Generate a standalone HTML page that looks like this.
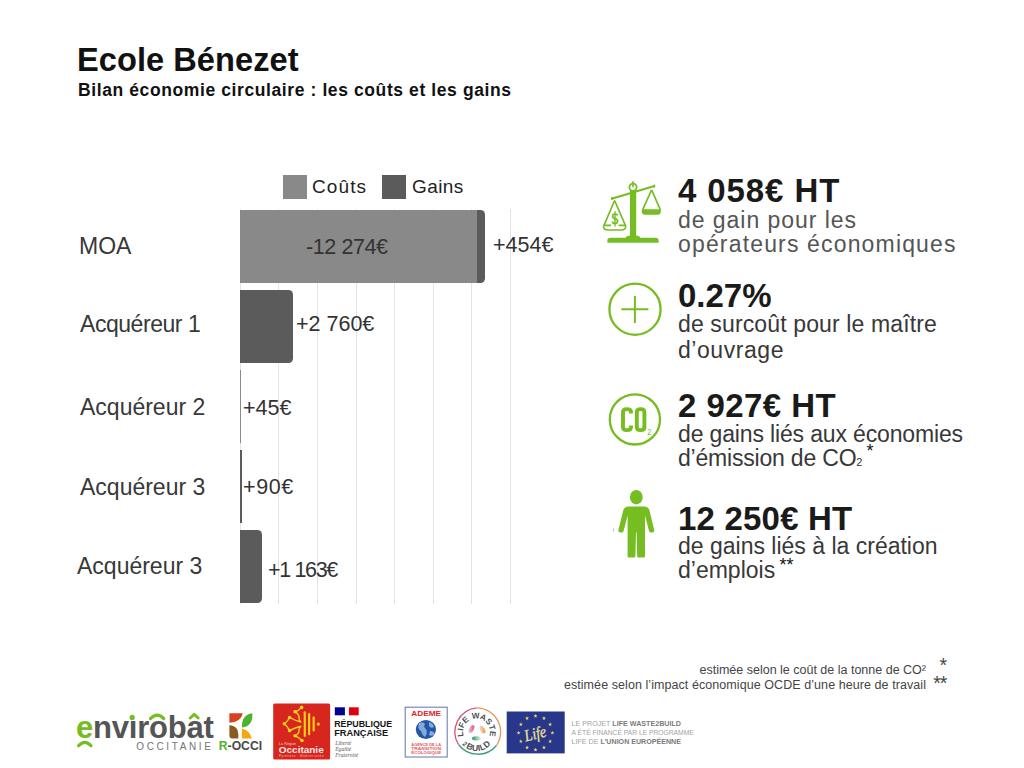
<!DOCTYPE html>
<html><head><meta charset="utf-8">
<style>
html,body{margin:0;padding:0;background:#fff;}
body{width:1024px;height:768px;position:relative;overflow:hidden;font-family:"Liberation Sans",sans-serif;color:#111;}
.t{position:absolute;white-space:nowrap;line-height:1;}
.b{font-weight:bold;}
.g{position:absolute;top:209px;width:1px;height:395px;background:#e3e3e3;}
.bar{position:absolute;}
.c{background:#898989;}
.k{background:#5b5b5b;}
.lbl{font-size:23px;color:#383838;}
.num{font-size:21.5px;color:#333;}
.big{font-size:33px;font-weight:bold;color:#1a1a1a;}
.sub{font-size:23px;color:#383838;}
</style></head><body>

<!-- Header -->
<div class="t b" id="title" style="left:77px;top:43.8px;font-size:32.6px;letter-spacing:0.05px;">Ecole Bénezet</div>
<div class="t b" id="subt" style="left:78px;top:81.8px;font-size:17.5px;letter-spacing:0.6px;">Bilan économie circulaire : les coûts et les gains</div>

<!-- Legend -->
<div class="bar c" style="left:283px;top:175px;width:24px;height:24px;"></div>
<div class="t" style="left:312px;top:177px;font-size:19px;color:#222;letter-spacing:1.1px;">Coûts</div>
<div class="bar k" style="left:382px;top:175px;width:24px;height:24px;"></div>
<div class="t" style="left:412px;top:177px;font-size:19px;color:#222;letter-spacing:0.4px;">Gains</div>

<!-- Grid -->
<div class="g" style="left:240px"></div>
<div class="g" style="left:278px"></div>
<div class="g" style="left:317px"></div>
<div class="g" style="left:356px"></div>
<div class="g" style="left:394px"></div>
<div class="g" style="left:433px"></div>
<div class="g" style="left:471px"></div>
<div class="g" style="left:510px"></div>

<!-- Bars -->
<div class="bar c" style="left:240px;top:210px;width:237px;height:73px;"></div>
<div class="bar k" style="left:477px;top:210px;width:8px;height:73px;border-radius:0 4.5px 4.5px 0;"></div>
<div class="bar k" style="left:240px;top:290px;width:53px;height:73px;border-radius:0 4.5px 4.5px 0;"></div>
<div class="bar" style="left:240px;top:370px;width:1px;height:73px;background:#8a8a8a;"></div>
<div class="bar k" style="left:240px;top:450px;width:2px;height:73px;"></div>
<div class="bar k" style="left:240px;top:530px;width:22px;height:73px;border-radius:0 4.5px 4.5px 0;"></div>

<!-- Labels -->
<div class="t lbl" style="left:79px;top:235px;">MOA</div>
<div class="t lbl" style="left:80px;top:313.2px;letter-spacing:-0.45px;">Acquéreur 1</div>
<div class="t lbl" style="left:80px;top:396.3px;">Acquéreur 2</div>
<div class="t lbl" style="left:80px;top:475.7px;">Acquéreur 3</div>
<div class="t lbl" style="left:77px;top:554.6px;">Acquéreur 3</div>

<!-- Values -->
<div class="t num" style="left:306px;top:237px;letter-spacing:-0.4px;">-12 274€</div>
<div class="t num" style="left:493px;top:235px;">+454€</div>
<div class="t num" style="left:296px;top:314px;">+2 760€</div>
<div class="t num" style="left:243px;top:398px;">+45€</div>
<div class="t num" style="left:243px;top:476.5px;letter-spacing:0.6px;">+90€</div>
<div class="t num" style="left:268px;top:560px;letter-spacing:-1.35px;">+1 163€</div>

<!-- Right stats -->
<div class="t big" style="left:678px;top:173.5px;letter-spacing:0.9px;">4 058€ HT</div>
<div class="t sub" style="left:678px;top:209px;color:#555;letter-spacing:0.96px;">de gain pour les</div>
<div class="t sub" style="left:678px;top:233.2px;color:#555;letter-spacing:1.16px;">opérateurs économiques</div>

<div class="t big" style="left:678px;top:278.7px;">0.27%</div>
<div class="t sub" style="left:678px;top:312.5px;letter-spacing:0.13px;">de surcoût pour le maître</div>
<div class="t sub" style="left:678px;top:339.2px;letter-spacing:0.55px;">d’ouvrage</div>

<div class="t big" style="left:678px;top:389px;letter-spacing:0.45px;">2 927€ HT</div>
<div class="t sub" style="left:678px;top:422.6px;letter-spacing:-0.15px;">de gains liés aux économies</div>
<div class="t sub" style="left:678px;top:446.9px;letter-spacing:-0.2px;">d’émission de CO<span style="font-size:11px">2</span></div>
<div class="t" style="left:866.5px;top:441.5px;font-size:18px;">*</div>

<div class="t big" style="left:678px;top:502.3px;letter-spacing:0.2px;">12 250€ HT</div>
<div class="t sub" style="left:678px;top:534.6px;">de gains liés à la création</div>
<div class="t sub" style="left:678px;top:558.9px;">d’emplois</div>
<div class="t" style="left:779.4px;top:556.2px;font-size:18px;">**</div>


<!-- Icons -->
<svg style="position:absolute;left:598px;top:172px" width="70" height="76" viewBox="598 172 70 76">
 <g fill="none" stroke="#76bd22" stroke-linejoin="round">
  <path d="M611.5,198.8 L654.6,186" stroke-width="2.2"/>
  <circle cx="633" cy="187.3" r="3.6" stroke-width="1.8"/>
  <path d="M614.6,200.5 L604,225.3 M614.6,200.5 L625.4,225.3" stroke-width="1.7"/>
  <path d="M603.6,225.4 L611,225.4 M618.6,225.4 L625.6,225.4 Q626.2,230 621,230 L608,230 Q603,230 603.6,225.4" stroke-width="1.6"/>
  <path d="M651.6,189.8 L642.6,209.8 M651.6,189.8 L660.4,209.8" stroke-width="1.7"/>
  <path d="M615,211.2 V226.6" stroke-width="1.4"/>
  <path d="M617.5,215.6 Q617.3,214 615,214 Q612.6,214 612.6,216 Q612.6,218 615,218.6 Q617.6,219.2 617.6,221.3 Q617.6,223.4 615,223.4 Q612.5,223.4 612.4,221.6" stroke-width="1.7"/>
 </g>
 <g fill="#76bd22">
  <rect x="630" y="190" width="6.2" height="48"/>
  <rect x="632.2" y="181.2" width="1.6" height="6"/>
  <rect x="611" y="197.2" width="1.8" height="2.6"/>
  <rect x="653.4" y="184.6" width="1.8" height="2.8"/>
  <path d="M641.8,209.2 L660.8,209.2 L660.8,211.6 Q660.8,214.8 657.6,214.8 L645,214.8 Q641.8,214.8 641.8,211.6 Z"/>
  <path d="M607.4,242.8 L658.6,242.8 L658.6,240.6 Q658.6,237.8 655.6,237.8 L640.5,237.8 Q639.5,235.8 637.5,235.8 L628.5,235.8 Q626.5,235.8 625.5,237.8 L610.4,237.8 Q607.4,237.8 607.4,240.6 Z"/>
 </g>
</svg>

<svg style="position:absolute;left:600px;top:275px" width="70" height="70" viewBox="600 275 70 70">
 <g fill="none" stroke="#76bd22">
  <circle cx="635" cy="309.2" r="25.6" stroke-width="2.3"/>
  <path d="M621.4,309.2 H648.4 M634.9,296 V323" stroke-width="2"/>
 </g>
</svg>

<svg style="position:absolute;left:600px;top:385px" width="70" height="70" viewBox="600 385 70 70">
 <g fill="none" stroke="#76bd22">
  <circle cx="634.9" cy="419.4" r="25.1" stroke-width="2.3"/>
  <path d="M631,413.4 V412 Q631,409.1 626.9,409.1 Q623,409.1 623,412 V427.2 Q623,430.1 626.9,430.1 Q631,430.1 631,427.2 V425.5" stroke-width="3.9"/>
  <path d="M640.6,409.1 Q644.4,409.1 644.4,412 V427.2 Q644.4,430.1 640.6,430.1 Q636.8,430.1 636.8,427.2 V412 Q636.8,409.1 640.6,409.1 Z" stroke-width="3.9"/>
 </g>
 <text x="647.2" y="434.8" font-family="Liberation Sans" font-size="9.5" fill="#76bd22" transform="translate(647.2 434.8) scale(0.75 1) translate(-647.2 -434.8)">2</text>
</svg>

<svg style="position:absolute;left:600px;top:480px" width="70" height="85" viewBox="600 480 70 85">
 <g fill="#76bd22">
  <ellipse cx="636.3" cy="497.2" rx="6.4" ry="7.2"/>
  <path d="M628.5,506.4 L644.2,506.4 Q648.6,506.4 649.6,511 L654.2,530 Q654.6,532.4 652.4,532.4 L650.6,532.4 Q649.4,532.4 649,531 L645,515.5 L645,556.6 Q645,557.6 644,557.6 L638.2,557.6 Q637.2,557.6 637.2,556.6 L636.6,532.6 L636,532.6 L635.4,556.6 Q635.4,557.6 634.4,557.6 L628.6,557.6 Q627.6,557.6 627.6,556.6 L627.6,515.5 L623.6,531 Q623.2,532.4 622,532.4 L620.2,532.4 Q618,532.4 618.4,530 L623.1,511 Q624.1,506.4 628.5,506.4 Z"/>
 </g>
 <rect x="613" y="528.5" width="0.8" height="3" fill="#aaa"/>
</svg>

<!-- Footnotes -->
<div class="t" style="right:98px;top:664px;font-size:12.5px;color:#444;">estimée selon le coût de la tonne de CO²</div>
<div class="t" style="right:98px;top:679px;font-size:12.5px;color:#444;letter-spacing:0.07px;">estimée selon l’impact économique OCDE d’une heure de travail</div>
<div class="t" style="left:939.5px;top:656.1px;font-size:19.5px;color:#444;">*</div>
<div class="t" style="left:933.3px;top:674.3px;font-size:19.5px;color:#444;letter-spacing:-1.2px;">**</div>


<!-- Logos -->
<svg style="position:absolute;left:0;top:696px" width="720" height="72" viewBox="0 696 720 72">
 <!-- envirobat -->
 <text x="76" y="737.6" font-family="Liberation Sans" font-weight="bold" font-size="31" fill="#555555" letter-spacing="-0.2"><tspan fill="#76bd22">e</tspan>nvırobat</text>
 <circle cx="132.2" cy="717.4" r="2.6" fill="#76bd22"/>
 <path d="M150.5,718.6 Q157.2,711.5 163.8,718.6" fill="none" stroke="#76bd22" stroke-width="3.2" stroke-linecap="round"/>
 <path d="M190.2,718 L194.2,714.3 L198.2,718" fill="none" stroke="#76bd22" stroke-width="3" stroke-linecap="round" stroke-linejoin="round"/>
 <path d="M78.6,745.8 Q84.8,738.8 91,745.8" fill="none" stroke="#76bd22" stroke-width="3.2" stroke-linecap="round"/>
 <text x="136.3" y="750" font-family="Liberation Sans" font-size="10" fill="#747474" letter-spacing="2.6">OCCITANIE</text>
 <!-- R-OCCI -->
 <path d="M229.4,713.2 H242.8 Q241,722.2 229.4,722.7 Z" fill="#d8401f"/>
 <path d="M229.4,725.1 Q238.3,726 238.3,734 V738.6 H232.4 Q229.4,738.6 229.4,735.6 Z" fill="#8b5a1f"/>
 <path d="M242,727.6 Q241.2,714.8 252.3,713.2 Q253.4,726 242,727.6 Z" fill="#4db431"/>
 <path d="M241.9,728.5 Q250.6,731 251.7,738.6 H241.9 Z" fill="#f6a60f"/>
 <text x="218.8" y="750.4" font-family="Liberation Sans" font-weight="bold" font-size="12" fill="#4a4a4a" textLength="43.3" lengthAdjust="spacingAndGlyphs"><tspan fill="#4db431">R</tspan>-OCCI</text>
 <!-- Occitanie -->
 <rect x="273.2" y="703.6" width="56.9" height="56" rx="1.5" fill="#d7261e"/>
 <g fill="#fcd21c">
  <rect x="303.7" y="711.3" width="2.1" height="25.8" rx="1"/>
  <rect x="308.1" y="713.1" width="2.1" height="22.2" rx="1"/>
  <rect x="312.6" y="716.5" width="2.1" height="15.1" rx="1"/>
  <circle cx="318.3" cy="724.1" r="1.6"/>
  <circle cx="301.6" cy="707.4" r="1.8"/>
  <circle cx="295.1" cy="711.8" r="1.8"/>
  <circle cx="289.6" cy="717.5" r="1.8"/>
  <circle cx="284.4" cy="723.8" r="1.8"/>
  <circle cx="289.6" cy="730.6" r="1.8"/>
  <circle cx="295.1" cy="735.8" r="1.8"/>
  <circle cx="301.9" cy="740.5" r="1.8"/>
 </g>
 <path d="M301.6,707.4 Q298.5,711 295.1,711.8 Q299.2,714 299,718 Q299.2,721 301,722 Q295,720.5 289.6,717.5 Q287.5,721.5 284.4,723.8 Q287.5,726.5 289.6,730.6 Q295,727.5 301,726.2 Q299.2,727.5 299,730 Q299.2,734 295.1,735.8 Q298.5,737 301.9,740.5" fill="none" stroke="#fcd21c" stroke-width="1.4" stroke-linejoin="round"/>
 <text x="278.9" y="744.8" font-family="Liberation Sans" font-size="3.8" fill="#f4c9c2">La Région</text>
 <text x="278.8" y="752.6" font-family="Liberation Sans" font-weight="bold" font-size="9.2" fill="#fbe9e6" textLength="44.9" lengthAdjust="spacingAndGlyphs">Occitanie</text>
 <text x="278.9" y="757" font-family="Liberation Sans" font-size="3.1" fill="#f4b9b0" textLength="44.8">Pyrénées · Méditerranée</text>
 <!-- Republique Francaise -->
 <rect x="334.8" y="707.3" width="10.1" height="8" fill="#000091"/>
 <rect x="349" y="707.3" width="9.7" height="8" fill="#e1000f"/>
 <text x="334.2" y="727" font-family="Liberation Sans" font-weight="bold" font-size="8.9" fill="#161616" textLength="57.9" lengthAdjust="spacingAndGlyphs">RÉPUBLIQUE</text>
 <text x="334.2" y="736.3" font-family="Liberation Sans" font-weight="bold" font-size="8.9" fill="#161616" textLength="53.9" lengthAdjust="spacingAndGlyphs">FRANÇAISE</text>
 <g font-family="Liberation Serif" font-style="italic" font-size="5.6" fill="#555">
  <text x="335.2" y="744.9">Liberté</text>
  <text x="335.2" y="750.9">Égalité</text>
  <text x="335.2" y="756.9">Fraternité</text>
 </g>
 <!-- ADEME -->
 <rect x="405.2" y="707.2" width="42" height="49.8" fill="#fff" stroke="#6f81b6" stroke-width="1.1"/>
 <text x="411.2" y="716.3" font-family="Liberation Sans" font-weight="bold" font-size="7.4" fill="#e2232a" textLength="29.9" lengthAdjust="spacingAndGlyphs">ADEME</text>
 <ellipse cx="425.9" cy="729.5" rx="10.1" ry="9.6" fill="#2157a6"/>
 <path d="M419,723 Q423,721 425,724 Q423,727 426,729 Q428,733 425,737 Q422,735 421,731 Q417,729 419,723 Z M429,722 Q433,723 434,727 Q431,729 429,726 Z M430,731 Q434,731 435,734 Q432,737 429,735 Z" fill="#86a9da"/>
 <g font-family="Liberation Sans" font-weight="bold" font-size="3.7" fill="#e4575c">
  <text x="411.3" y="745.8" textLength="29.8" lengthAdjust="spacingAndGlyphs">AGENCE DE LA</text>
  <text x="411.3" y="749.9" textLength="29.8" lengthAdjust="spacingAndGlyphs">TRANSITION</text>
  <text x="411.3" y="754.1" textLength="29.8" lengthAdjust="spacingAndGlyphs">ÉCOLOGIQUE</text>
 </g>
 <!-- LIFE WASTE 2BUILD -->
 <defs>
  <path id="lwtop" d="M466.95,741.55 A13.5,13.5 0 1 1 486.05,741.55"/>
  <path id="lwbot" d="M460.05,741.5 A19,19 0 0 0 492.95,741.5"/>
 </defs>
 <path d="M458.5,744.5 A24.2,24.2 0 0 1 476.5,707.8" fill="none" stroke="#cf4f86" stroke-width="1.3"/>
 <path d="M476.5,707.8 A24.2,24.2 0 0 1 496.5,745.5" fill="none" stroke="#e9945a" stroke-width="1.3"/>
 <path d="M496.5,745.5 A24.2,24.2 0 0 1 458.5,744.5" fill="none" stroke="#3f9f76" stroke-width="1.3"/>
 <text font-family="Liberation Sans" font-weight="bold" font-size="8.2" fill="#505050"><textPath href="#lwtop" startOffset="50%" text-anchor="middle" letter-spacing="0.15">LIFE WASTE</textPath></text>
 <text font-family="Liberation Sans" font-weight="bold" font-size="8.6" fill="#505050"><textPath href="#lwbot" startOffset="50%" text-anchor="middle" letter-spacing="0.3"><tspan font-size="6.5">2</tspan><tspan dx="1.2">BUILD</tspan></textPath></text>
 <defs>
  <linearGradient id="gp" x1="1" y1="0" x2="0" y2="1"><stop offset="0" stop-color="#d23f7f"/><stop offset="1" stop-color="#d23f7f" stop-opacity="0.15"/></linearGradient>
  <linearGradient id="go" x1="0" y1="0" x2="1" y2="1"><stop offset="0" stop-color="#e8843c" stop-opacity="0.15"/><stop offset="1" stop-color="#e8843c"/></linearGradient>
  <linearGradient id="gg" x1="0" y1="0" x2="1" y2="0"><stop offset="0" stop-color="#2f9a6c"/><stop offset="1" stop-color="#2f9a6c" stop-opacity="0.15"/></linearGradient>
 </defs>
 <ellipse cx="471.4" cy="729" rx="2.3" ry="4.2" transform="rotate(30 471.4 729)" fill="url(#gp)"/>
 <ellipse cx="482.4" cy="729.7" rx="2.3" ry="4.2" transform="rotate(-30 482.4 729.7)" fill="url(#go)"/>
 <ellipse cx="476.4" cy="738.4" rx="4.4" ry="2.1" fill="url(#gg)"/>
 <!-- EU Life -->
 <rect x="506.7" y="711.5" width="58" height="41.9" fill="#29378a"/>
 <g fill="#e9d66b"><polygon points="535.50,713.90 536.02,715.29 537.50,715.35 536.34,716.27 536.73,717.70 535.50,716.88 534.27,717.70 534.66,716.27 533.50,715.35 534.98,715.29"/><polygon points="543.95,716.16 544.47,717.55 545.95,717.62 544.79,718.54 545.18,719.96 543.95,719.15 542.72,719.96 543.11,718.54 541.95,717.62 543.43,717.55"/><polygon points="550.14,722.35 550.65,723.74 552.13,723.80 550.97,724.72 551.37,726.15 550.14,725.33 548.90,726.15 549.30,724.72 548.14,723.80 549.62,723.74"/><polygon points="552.40,730.80 552.92,732.19 554.40,732.25 553.24,733.17 553.63,734.60 552.40,733.78 551.17,734.60 551.56,733.17 550.40,732.25 551.88,732.19"/><polygon points="550.14,739.25 550.65,740.64 552.13,740.70 550.97,741.62 551.37,743.05 550.14,742.23 548.90,743.05 549.30,741.62 548.14,740.70 549.62,740.64"/><polygon points="543.95,745.44 544.47,746.82 545.95,746.89 544.79,747.81 545.18,749.23 543.95,748.42 542.72,749.23 543.11,747.81 541.95,746.89 543.43,746.82"/><polygon points="535.50,747.70 536.02,749.09 537.50,749.15 536.34,750.07 536.73,751.50 535.50,750.68 534.27,751.50 534.66,750.07 533.50,749.15 534.98,749.09"/><polygon points="527.05,745.44 527.57,746.82 529.05,746.89 527.89,747.81 528.28,749.23 527.05,748.42 525.82,749.23 526.21,747.81 525.05,746.89 526.53,746.82"/><polygon points="520.86,739.25 521.38,740.64 522.86,740.70 521.70,741.62 522.10,743.05 520.86,742.23 519.63,743.05 520.03,741.62 518.87,740.70 520.35,740.64"/><polygon points="518.60,730.80 519.12,732.19 520.60,732.25 519.44,733.17 519.83,734.60 518.60,733.78 517.37,734.60 517.76,733.17 516.60,732.25 518.08,732.19"/><polygon points="520.86,722.35 521.38,723.74 522.86,723.80 521.70,724.72 522.10,726.15 520.86,725.33 519.63,726.15 520.03,724.72 518.87,723.80 520.35,723.74"/><polygon points="527.05,716.16 527.57,717.55 529.05,717.62 527.89,718.54 528.28,719.96 527.05,719.15 525.82,719.96 526.21,718.54 525.05,717.62 526.53,717.55"/></g>
 <text x="523.8" y="739" font-family="Liberation Serif" font-style="italic" font-size="16.5" fill="#f0e08a" stroke="#f0e08a" stroke-width="0.3" transform="rotate(-14 535 732)" textLength="22" lengthAdjust="spacingAndGlyphs">Life</text>
 <g font-family="Liberation Sans" font-size="7.3" fill="#a3a3a3">
  <text x="571.6" y="726.4" textLength="109.4" lengthAdjust="spacingAndGlyphs">LE PROJET <tspan font-weight="bold" fill="#7b7b7b">LIFE WASTE2BUILD</tspan></text>
  <text x="571.6" y="735.3" textLength="122.1" lengthAdjust="spacingAndGlyphs">A ÉTÉ FINANCÉ PAR LE PROGRAMME</text>
  <text x="571.6" y="744.2" textLength="109.4" lengthAdjust="spacingAndGlyphs">LIFE DE <tspan font-weight="bold" fill="#7b7b7b">L’UNION EUROPÉENNE</tspan></text>
 </g>
</svg>

</body></html>
